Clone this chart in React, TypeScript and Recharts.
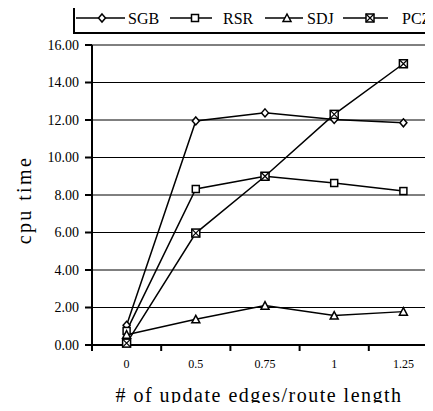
import React from 'react';
import { LineChart, Line, XAxis, YAxis, CartesianGrid } from 'recharts';

const categories = ['0', '0.5', '0.75', '1', '1.25'];
const seriesNames = ['SGB', 'RSR', 'SDJ', 'PCZ'];
const sgbValues = [1.05, 11.95, 12.38, 12.03, 11.85];
const rsrValues = [0.75, 8.32, 9.0, 8.64, 8.21];
const sdjValues = [0.55, 1.37, 2.1, 1.57, 1.78];
const pczValues = [0.1, 5.97, 9.0, 12.3, 15.0];
const yTicks = [0, 2, 4, 6, 8, 10, 12, 14, 16];

const data = categories.map((c, i) => ({
  x: c,
  SGB: sgbValues[i],
  RSR: rsrValues[i],
  SDJ: sdjValues[i],
  PCZ: pczValues[i],
}));

const FONT = 'Times New Roman';
const CHART_W = 446;
const CHART_H = 411;
const PLOT_LEFT = 92;
const PLOT_RIGHT = 438;
const BAND = (PLOT_RIGHT - PLOT_LEFT) / categories.length;

const Diamond = ({ cx, cy }: any) => (
  <path d={`M${cx},${cy - 4}L${cx + 3.5},${cy}L${cx},${cy + 4}L${cx - 3.5},${cy}Z`} fill="#fff" stroke="#000" strokeWidth={1.5} />
);
const Square = ({ cx, cy }: any) => (
  <rect x={cx - 3.5} y={cy - 3.5} width={7} height={7} fill="#fff" stroke="#000" strokeWidth={1.5} />
);
const Triangle = ({ cx, cy }: any) => (
  <path d={`M${cx},${cy - 4}L${cx + 4},${cy + 3.5}L${cx - 4},${cy + 3.5}Z`} fill="#fff" stroke="#000" strokeWidth={1.5} />
);
const BoxX = ({ cx, cy }: any) => (
  <g>
    <rect x={cx - 4} y={cy - 4} width={8} height={8} fill="#fff" stroke="#000" strokeWidth={1.5} />
    <path d={`M${cx - 4},${cy - 4}L${cx + 4},${cy + 4}M${cx + 4},${cy - 4}L${cx - 4},${cy + 4}`} stroke="#000" strokeWidth={1.2} />
  </g>
);

const markers: Record<string, any> = { SGB: Diamond, RSR: Square, SDJ: Triangle, PCZ: BoxX };

// legend item layout: segment start, segment end, marker x, text x
const legendLayout = [
  [76, 125, 102, 128],
  [170, 212, 195, 223],
  [265, 303, 287, 307],
  [343, 388, 370, 402],
];

const XTick = ({ x, y, payload }: any) => {
  const bx = x - BAND / 2;
  return (
    <g>
      <line x1={bx} y1={y} x2={bx} y2={y + 6} stroke="#000" strokeWidth={2} />
      <text x={x} y={y + 23} textAnchor="middle" fontFamily={FONT} fontSize={12} fill="#000">
        {payload.value}
      </text>
    </g>
  );
};

export default function App() {
  return (
    <div style={{ margin: -8, width: 433, height: 411, overflow: 'hidden', position: 'relative', background: '#fff' }}>
      <LineChart width={CHART_W} height={CHART_H} data={data} margin={{ top: 45, right: CHART_W - PLOT_RIGHT, bottom: 36, left: 0 }}>
        <CartesianGrid vertical={false} stroke="#000" strokeWidth={1} />
        <XAxis
          dataKey="x"
          height={30}
          padding={{ left: BAND / 2, right: BAND / 2 }}
          tickSize={0}
          tickMargin={0}
          tickLine={false}
          axisLine={{ stroke: '#000', strokeWidth: 2 }}
          tick={<XTick />}
          interval={0}
          label={{
            content: () => (
              <text x={259} y={402} textAnchor="middle" fontFamily={FONT} fontSize={20} letterSpacing={1.5} fill="#000">
                # of update edges/route length
              </text>
            ),
          }}
        />
        <YAxis
          width={PLOT_LEFT}
          domain={[0, 16]}
          ticks={yTicks}
          tickFormatter={(v: number) => v.toFixed(2)}
          tickSize={7}
          tickMargin={6}
          tickLine={{ stroke: '#000', strokeWidth: 2 }}
          axisLine={{ stroke: '#000', strokeWidth: 2 }}
          tick={{ fill: '#000', fontSize: 14, fontFamily: FONT }}
          label={{
            content: () => (
              <text x={31} y={200} transform="rotate(-90 31 200)" textAnchor="middle" fontFamily={FONT} fontSize={20} letterSpacing={2.4} fill="#000">
                cpu time
              </text>
            ),
          }}
        />
        {seriesNames.map((name) => {
          const M = markers[name];
          return (
            <Line
              key={name}
              dataKey={name}
              type="linear"
              stroke="#000"
              strokeWidth={1.5}
              isAnimationActive={false}
              dot={(p: any) => <M key={`${name}-${p.index}`} cx={p.cx} cy={p.cy} />}
            />
          );
        })}
      </LineChart>
      <svg width={433} height={40} style={{ position: 'absolute', left: 0, top: 0 }}>
        <rect x={74} y={5} width={400} height={28} fill="#fff" stroke="#000" strokeWidth={2} />
        {seriesNames.map((name, i) => {
          const [s, e, mx, tx] = legendLayout[i];
          const M = markers[name];
          return (
            <g key={name}>
              <line x1={s} y1={18} x2={e} y2={18} stroke="#000" strokeWidth={1.5} />
              <M cx={mx} cy={18} />
              <text x={tx} y={24} fontFamily={FONT} fontSize={16} fill="#000">
                {name}
              </text>
            </g>
          );
        })}
      </svg>
    </div>
  );
}
